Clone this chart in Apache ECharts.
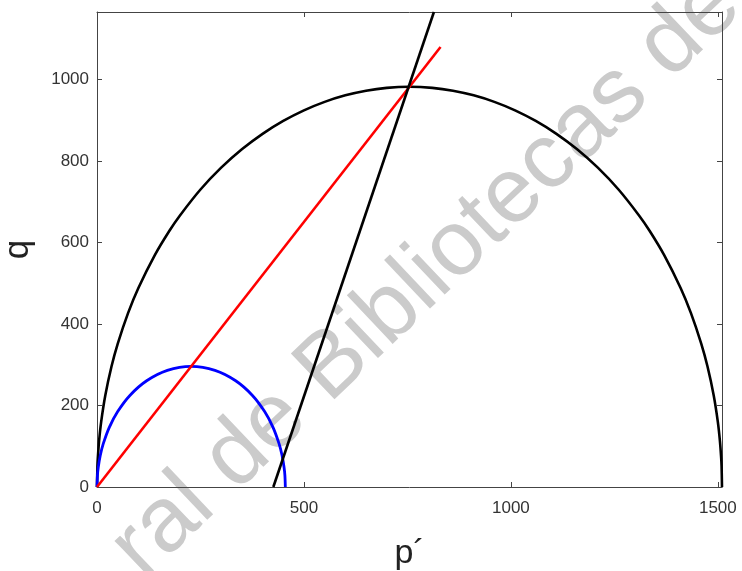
<!DOCTYPE html>
<html>
<head>
<meta charset="utf-8">
<script src="https://cdn.jsdelivr.net/npm/echarts@6/dist/echarts.min.js"></script>
<style>
  html, body { margin: 0; padding: 0; background: #fff; }
  #chart { width: 742px; height: 571px; }
</style>
</head>
<body>
<div id="chart"></div>
<script>
// Large yield ellipse (p', q)
const yieldP = [0, 1, 2, 5, 10, 20, 35, 50, 75, 100, 140, 175, 200, 250, 300, 350, 400, 450, 500, 550, 600, 650, 700, 755,
  810, 860, 910, 960, 1010, 1060, 1110, 1160, 1210, 1260, 1310, 1335, 1370, 1410, 1435, 1460, 1475, 1490, 1500, 1505, 1508, 1509, 1510];
const yieldQ = [0, 50.5, 71.4, 112.8, 159.2, 224.4, 295.4, 351.2, 426.5, 488.1, 569.3, 628.4, 665.4, 729.6, 783.2, 828.3, 866.2, 897.8, 923.8, 944.6, 960.6, 972.0, 978.9, 981.5,
  978.9, 972.0, 960.6, 944.6, 923.8, 897.8, 866.2, 828.3, 783.2, 729.6, 665.4, 628.4, 569.3, 488.1, 426.5, 351.2, 295.4, 224.4, 159.2, 112.8, 71.4, 50.5, 0];

// Small initial ellipse
const initP = [0, 1, 3, 8, 15, 30, 50, 80, 120, 170, 227.5, 285, 335, 375, 405, 425, 440, 447, 452, 454, 455];
const initQ = [0, 27.7, 47.9, 77.7, 105.6, 146.8, 185.0, 225.2, 260.6, 286.1, 295.8, 286.1, 260.6, 225.2, 185.0, 146.8, 105.6, 77.7, 47.9, 27.7, 0];

// Critical state line
const cslP = [0, 830];
const cslQ = [0, 1079];

// Stress path (3:1)
const pathP = [426, 814];
const pathQ = [0, 1165];

// Axis ranges and ticks
const xRange = [0, 1510];
const yRange = [0, 1165];
const xStep = 500;
const yStep = 200;

const pairs = (xs, ys) => xs.map((x, i) => [x, ys[i]]);
const tickText = step => v => (v % step === 0 ? String(v) : '');

const chart = echarts.init(document.getElementById('chart'), null, { renderer: 'canvas' });

const axisColor = '#444';
const labelFont = 'Liberation Sans, Arial, sans-serif';

const baseX = {
  type: 'value', min: xRange[0], max: xRange[1], interval: xStep,
  axisLine: { show: true, onZero: false, lineStyle: { color: axisColor, width: 1 } },
  axisTick: { show: true, inside: true, length: 5, lineStyle: { color: axisColor } },
  splitLine: { show: false }
};
const baseY = {
  type: 'value', min: yRange[0], max: yRange[1], interval: yStep,
  axisLine: { show: true, onZero: false, lineStyle: { color: axisColor, width: 1 } },
  axisTick: { show: true, inside: true, length: 5, lineStyle: { color: axisColor } },
  splitLine: { show: false }
};

chart.setOption({
  animation: false,
  backgroundColor: '#fff',
  grid: { left: 97, right: 20, top: 12, bottom: 84, containLabel: false, outerBoundsMode: 'none' },
  graphic: [{
    type: 'text',
    x: 126, y: 562,
    rotation: 43.5 * Math.PI / 180,
    z: -10,
    silent: true,
    style: {
      text: 'ral de Bibliotecas de',
      font: '92px "Liberation Sans", Arial, sans-serif',
      fill: '#cbcbcb',
      align: 'left',
      verticalAlign: 'middle'
    }
  }],
  xAxis: [
    Object.assign({}, baseX, {
      position: 'bottom',
      name: 'p\u00b4',
      nameLocation: 'middle',
      nameGap: 50,
      nameTextStyle: { fontFamily: labelFont, fontSize: 34, color: '#222' },
      axisLabel: { show: true, margin: 13, fontFamily: labelFont, fontSize: 17, color: '#333', formatter: tickText(xStep) }
    }),
    Object.assign({}, baseX, { position: 'top', axisLabel: { show: false } })
  ],
  yAxis: [
    Object.assign({}, baseY, {
      position: 'left',
      name: 'q',
      nameLocation: 'middle',
      nameGap: 61,
      nameRotate: 90,
      nameTextStyle: { fontFamily: labelFont, fontSize: 35, color: '#222' },
      axisLabel: { show: true, margin: 8, fontFamily: labelFont, fontSize: 17, color: '#333', formatter: tickText(yStep) }
    }),
    Object.assign({}, baseY, { position: 'right', axisLabel: { show: false } })
  ],
  series: [
    {
      type: 'line', name: 'yield', data: pairs(yieldP, yieldQ),
      showSymbol: false, smooth: 0.3, clip: true,
      lineStyle: { color: '#000', width: 2.6 }, z: 3
    },
    {
      type: 'line', name: 'initial', data: pairs(initP, initQ),
      showSymbol: false, smooth: 0.3, clip: true,
      lineStyle: { color: '#0000ff', width: 2.8 }, z: 3
    },
    {
      type: 'line', name: 'csl', data: pairs(cslP, cslQ),
      showSymbol: false, clip: true,
      lineStyle: { color: '#ff0000', width: 2.6 }, z: 4
    },
    {
      type: 'line', name: 'path', data: pairs(pathP, pathQ),
      showSymbol: false, clip: true,
      lineStyle: { color: '#000', width: 2.6 }, z: 5
    }
  ]
});
</script>
</body>
</html>
